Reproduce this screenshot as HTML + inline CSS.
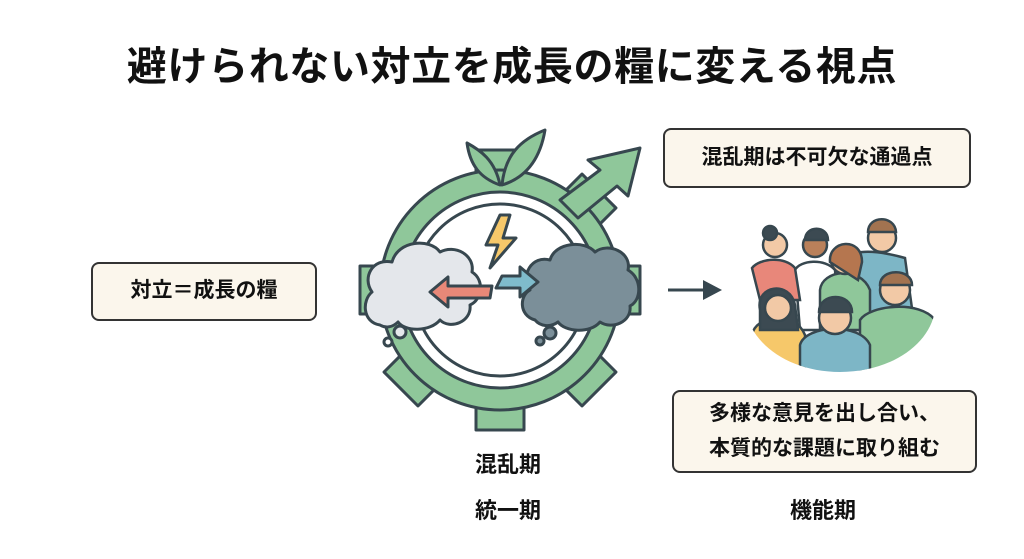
<!DOCTYPE html>
<html><head><meta charset="utf-8"><style>
body{margin:0;width:1024px;height:559px;background:#fff;position:relative;overflow:hidden;font-family:"Liberation Sans","Noto Sans CJK JP",sans-serif;color:#111}
.t{position:absolute;left:0;width:1024px;top:34px;text-align:center;font-size:40px;font-weight:bold;letter-spacing:0.6px}
.b{position:absolute;border:2px solid #333;border-radius:8px;background:#fbf6ec;font-weight:bold;font-size:21px;display:flex;align-items:center;justify-content:center;box-sizing:border-box;text-align:center;line-height:1.65}
.l{position:absolute;font-weight:bold;font-size:22px;width:120px;text-align:center}
svg{position:absolute;left:0;top:0}
</style></head><body>
<div class="t">避けられない対立を成長の糧に変える視点</div>
<div class="b" style="left:91px;top:262px;width:226px;height:59px">対立＝成長の糧</div>
<div class="b" style="left:663px;top:128px;width:308px;height:60px">混乱期は不可欠な通過点</div>
<div class="b" style="left:672px;top:390px;width:305px;height:83px">多様な意見を出し合い、<br>本質的な課題に取り組む</div>
<div class="l" style="left:448px;top:447px">混乱期</div>
<div class="l" style="left:448px;top:493px">統一期</div>
<div class="l" style="left:763px;top:493px">機能期</div>
<svg width="1024" height="559" viewBox="0 0 1024 559">
<g stroke="#37474f" stroke-width="3" stroke-linejoin="round">
<g fill="#8fc79a">
<g transform="translate(500,290)">
<rect x="-24" y="-140" width="48" height="34"/>
<rect x="-24" y="-140" width="48" height="34" transform="rotate(45)"/>
<rect x="-24" y="-140" width="48" height="34" transform="rotate(90)"/>
<rect x="-24" y="-140" width="48" height="34" transform="rotate(135)"/>
<rect x="-24" y="-140" width="48" height="34" transform="rotate(180)"/>
<rect x="-24" y="-140" width="48" height="34" transform="rotate(225)"/>
<rect x="-24" y="-140" width="48" height="34" transform="rotate(270)"/>
<circle r="120"/>
</g>
<path d="M560,200 L600,170 L588,160 L640,148 L628,196 L617,186 L578,218 Z"/>
<path d="M500,185 C495,160 480,150 467,143 C470,165 480,178 500,185 Z"/>
<path d="M502,185 C505,155 520,140 545,130 C540,160 525,178 502,185 Z"/>
</g>
<circle cx="500" cy="290" r="98" fill="#fff"/>
<circle cx="500" cy="290" r="86" fill="#fff"/>
<path fill="#e4e7eb" d="M380,325 C362,322 362,300 372,292 C362,278 372,258 392,262 C398,240 430,238 440,252 C455,244 475,255 472,272 C485,280 482,300 470,305 C472,322 450,330 440,320 C430,332 405,332 398,322 C392,328 385,328 380,325 Z"/>
<path fill="#7b8f99" d="M535,320 C518,315 520,295 530,290 C520,275 532,255 550,260 C555,242 585,240 595,252 C608,242 632,252 628,270 C642,278 642,300 630,306 C632,322 612,330 600,322 C590,334 565,332 558,322 C550,328 540,326 535,320 Z"/>
<circle cx="400" cy="332" r="6" fill="#e4e7eb"/><circle cx="388" cy="342" r="4" fill="#fff"/>
<circle cx="550" cy="333" r="6" fill="#7b8f99"/><circle cx="540" cy="341" r="4" fill="#7b8f99"/>
<path fill="#e88878" d="M448,277 L448,286 L492,286 L490,298 L448,298 L448,307 L430,292 Z"/>
<path fill="#7fbccc" d="M520,267 L520,276 L502,276 L496,288 L520,288 L520,297 L538,282 Z"/>
<path fill="#f6c86a" d="M500,215 L486,245 L498,245 L490,268 L516,238 L503,238 L510,215 Z"/>
</g>
<line x1="668" y1="290" x2="705" y2="290" stroke="#37474f" stroke-width="3"/>
<path d="M703,280 L722,290 L703,300 Z" fill="#37474f"/>
<defs><clipPath id="c"><path d="M745,215 L935,215 L935,310 C930,345 890,372 840,372 C790,372 752,345 745,310 Z"/></clipPath></defs>
<g clip-path="url(#c)" stroke="#37474f" stroke-width="2.5">
<path d="M840,265 C845,250 870,248 905,258 L915,330 L850,330 Z" fill="#7db6c6"/>
<circle cx="882" cy="238" r="14" fill="#f2c9a6"/>
<path d="M868,232 C868,215 895,215 896,232 Z" fill="#a27350"/>
<path d="M795,270 C800,260 825,258 835,270 L840,330 L800,330 Z" fill="#fff"/>
<circle cx="815" cy="245" r="12" fill="#b9805a"/>
<path d="M805,240 C805,225 828,225 828,240 Z" fill="#3c4a52"/>
<path d="M752,268 C760,258 785,256 795,268 L800,300 L760,300 Z" fill="#e8877a"/>
<circle cx="775" cy="245" r="12" fill="#f2c9a6"/>
<circle cx="770" cy="233" r="7" fill="#3c4a52"/>
<path d="M820,290 C822,270 860,265 870,290 L870,330 L820,330 Z" fill="#8fc79a"/>
<circle cx="845" cy="260" r="14" fill="#f2c9a6"/>
<path d="M830,262 C828,240 862,236 862,262 L858,280 Z" fill="#b5764f"/>
<path d="M752,335 C755,315 795,310 805,335 L805,380 L750,380 Z" fill="#f6c86a"/>
<path d="M760,310 C755,285 790,280 795,305 L798,330 L760,330 Z" fill="#3c4a52"/>
<circle cx="778" cy="308" r="13" fill="#f2c9a6"/>
<path d="M860,320 C870,305 920,300 935,320 L935,380 L860,380 Z" fill="#8fc79a"/>
<circle cx="895" cy="290" r="15" fill="#f2c9a6"/>
<path d="M880,285 C880,268 912,268 912,285 Z" fill="#a27350"/>
<path d="M800,345 C805,325 860,322 870,345 L870,380 L800,380 Z" fill="#7db6c6"/>
<circle cx="835" cy="318" r="16" fill="#f2c9a6"/>
<path d="M819,312 C819,292 852,292 852,312 Z" fill="#3c4a52"/>
</g>
</svg>
</body></html>
